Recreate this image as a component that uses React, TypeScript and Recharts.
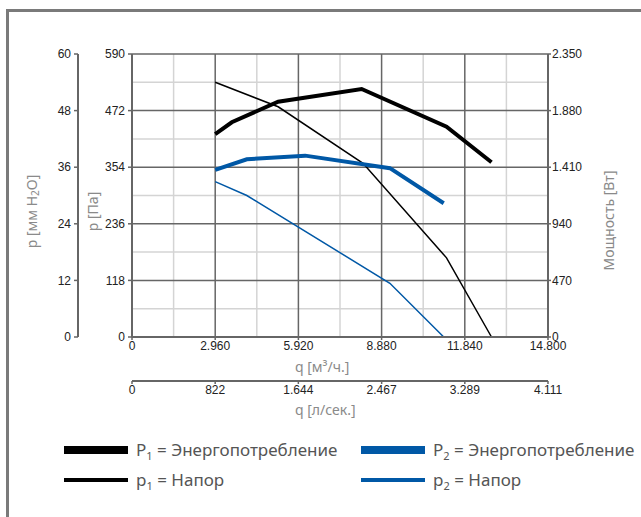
import React from "react";
import { LineChart, Line, XAxis, YAxis, ReferenceLine } from "recharts";

// axis ticks
const qTicks = [0, 2960, 5920, 8880, 11840, 14800];
const qMinor = [1480, 4440, 7400, 10360, 13320];
const lsTicks = [0, 822, 1644, 2467, 3289, 4111];
const paTicks = [0, 118, 236, 354, 472, 590];
const paMinor = [59, 177, 295, 413, 531];
const mmTicks = [0, 12, 24, 36, 48, 60];
const wTicks = [0, 470, 940, 1410, 1880, 2350];

// curves, q in m3/h
const p1Power = [
  { q: 2960, v: 1684 },
  { q: 3550, v: 1783 },
  { q: 5200, v: 1954 },
  { q: 8170, v: 2059 },
  { q: 11190, v: 1747 },
  { q: 12790, v: 1451 },
];
const p1Head = [
  { q: 2960, v: 531 },
  { q: 5200, v: 480 },
  { q: 8220, v: 362 },
  { q: 11190, v: 165 },
  { q: 12790, v: 0 },
];
const p2Power = [
  { q: 2960, v: 1388 },
  { q: 4085, v: 1476 },
  { q: 6160, v: 1506 },
  { q: 9175, v: 1402 },
  { q: 11090, v: 1111 },
];
const p2Head = [
  { q: 2960, v: 324 },
  { q: 4085, v: 295 },
  { q: 9175, v: 112 },
  { q: 11090, v: 0 },
];

// invisible anchors so the secondary scales get drawn
const mmAnchor = mmTicks.map((v) => ({ q: 0, v }));
const lsAnchor = lsTicks.map((q) => ({ q, v: 0 }));

const BLUE = "#0058a6";
const DARK = "#666";
const LIGHT = "#d4d4d4";
const LABEL_FONT = "'Noto Sans', sans-serif";
const TICK_FONT = "'Liberation Sans', Arial, sans-serif";

const fmt = (n: number) => String(n).replace(/\B(?=(\d{3})+(?!\d))/g, ".");

const tickStyle = { fontSize: 12, fill: "#222", fontFamily: TICK_FONT };
const axisLine = { stroke: DARK, strokeWidth: 2 };
const tickLine = { stroke: DARK, strokeWidth: 1.5 };

function VLabel({ viewBox, dx, dy, children }: any) {
  const cx = viewBox.x + dx;
  const cy = viewBox.y + viewBox.height / 2 + dy;
  return (
    <text
      x={cx}
      y={cy}
      transform={`rotate(-90 ${cx} ${cy})`}
      textAnchor="middle"
      dominantBaseline="central"
      fill="#8a8a8a"
      fontSize={14}
      fontFamily={LABEL_FONT}
    >
      {children}
    </text>
  );
}

function HLabel({ viewBox, startX, dy, text }: any) {
  return (
    <text
      x={startX}
      y={viewBox.y + dy}
      dominantBaseline="central"
      fill="#8a8a8a"
      fontSize={14}
      fontFamily={LABEL_FONT}
    >
      {text}
    </text>
  );
}

const legend = [
  { sym: "P", sub: "1", text: "Энергопотребление", color: "#000", h: 8, left: 64, top: 446 },
  { sym: "p", sub: "1", text: "Напор", color: "#000", h: 4, left: 64, top: 478 },
  { sym: "P", sub: "2", text: "Энергопотребление", color: BLUE, h: 8, left: 361, top: 446 },
  { sym: "p", sub: "2", text: "Напор", color: BLUE, h: 4, left: 361, top: 478 },
];

export default function App() {
  return (
    <div
      style={{
        position: "absolute",
        left: 0,
        top: 0,
        width: 641,
        height: 517,
        overflow: "hidden",
        background: "#fff",
      }}
    >
      <div
        style={{
          position: "absolute",
          left: 6,
          top: 9,
          width: 700,
          height: 600,
          border: "3px solid #7a7a7a",
        }}
      />
      <div style={{ position: "absolute", left: 0, top: 0 }}>
        <LineChart width={641} height={430} margin={{ top: 54, right: 33, bottom: 13, left: 10 }}>
          <XAxis
            xAxisId="b"
            dataKey="q"
            type="number"
            domain={[0, 4111]}
            ticks={lsTicks}
            interval={0}
            tickFormatter={fmt}
            tick={tickStyle}
            axisLine={axisLine}
            tickLine={tickLine}
            tickSize={3}
            tickMargin={1}
            height={36}
            label={<HLabel startX={295} dy={28} text="q [л/сек.]" />}
          />
          <XAxis
            xAxisId="a"
            dataKey="q"
            type="number"
            domain={[0, 14800]}
            ticks={qTicks}
            interval={0}
            tickFormatter={fmt}
            tick={tickStyle}
            axisLine={axisLine}
            tickLine={tickLine}
            tickSize={3}
            tickMargin={1}
            height={44}
            label={<HLabel startX={295} dy={29} text="q [м³/ч.]" />}
          />
          <YAxis
            yAxisId="b"
            type="number"
            domain={[0, 60]}
            ticks={mmTicks}
            interval={0}
            tick={tickStyle}
            axisLine={axisLine}
            tickLine={tickLine}
            tickSize={4}
            tickMargin={3}
            width={68}
            label={
              <VLabel dx={21} dy={16}>
                p [мм H
                <tspan dy={4} fontSize={10}>
                  2
                </tspan>
                <tspan dy={-4}>O]</tspan>
              </VLabel>
            }
          />
          <YAxis
            yAxisId="a"
            type="number"
            domain={[0, 590]}
            ticks={paTicks}
            interval={0}
            tick={tickStyle}
            axisLine={axisLine}
            tickLine={tickLine}
            tickSize={4}
            tickMargin={3}
            width={54}
            label={
              <VLabel dx={14} dy={16}>
                p [Па]
              </VLabel>
            }
          />
          <YAxis
            yAxisId="w"
            orientation="right"
            type="number"
            domain={[0, 2350]}
            ticks={wTicks}
            interval={0}
            tickFormatter={fmt}
            tick={tickStyle}
            axisLine={axisLine}
            tickLine={tickLine}
            tickSize={3}
            tickMargin={1}
            width={60}
            label={
              <VLabel dx={60} dy={25}>
                Мощность [Вт]
              </VLabel>
            }
          />

          {qMinor.map((v) => (
            <ReferenceLine key={"qm" + v} xAxisId="a" yAxisId="a" x={v} stroke={LIGHT} strokeWidth={1.5} />
          ))}
          {paMinor.map((v) => (
            <ReferenceLine key={"pm" + v} xAxisId="a" yAxisId="a" y={v} stroke={LIGHT} strokeWidth={1.5} />
          ))}
          {qTicks.slice(1, -1).map((v) => (
            <ReferenceLine key={"qM" + v} xAxisId="a" yAxisId="a" x={v} stroke={DARK} strokeWidth={1.5} />
          ))}
          {paTicks.slice(1).map((v) => (
            <ReferenceLine key={"pM" + v} xAxisId="a" yAxisId="a" y={v} stroke={DARK} strokeWidth={1.5} />
          ))}

          <Line
            data={mmAnchor}
            xAxisId="a"
            yAxisId="b"
            dataKey="v"
            stroke="none"
            dot={false}
            activeDot={false}
            isAnimationActive={false}
          />
          <Line
            data={lsAnchor}
            xAxisId="b"
            yAxisId="a"
            dataKey="v"
            stroke="none"
            dot={false}
            activeDot={false}
            isAnimationActive={false}
          />

          <Line
            data={p1Power}
            xAxisId="a"
            yAxisId="w"
            dataKey="v"
            type="linear"
            stroke="#000"
            strokeWidth={4}
            dot={false}
            isAnimationActive={false}
          />
          <Line
            data={p1Head}
            xAxisId="a"
            yAxisId="a"
            dataKey="v"
            type="linear"
            stroke="#000"
            strokeWidth={1.5}
            dot={false}
            isAnimationActive={false}
          />
          <Line
            data={p2Power}
            xAxisId="a"
            yAxisId="w"
            dataKey="v"
            type="linear"
            stroke={BLUE}
            strokeWidth={4}
            dot={false}
            isAnimationActive={false}
          />
          <Line
            data={p2Head}
            xAxisId="a"
            yAxisId="a"
            dataKey="v"
            type="linear"
            stroke={BLUE}
            strokeWidth={1.5}
            dot={false}
            isAnimationActive={false}
          />
        </LineChart>
      </div>

      {legend.map((l) => (
        <div key={l.sym + l.sub + l.text + l.left}>
          <div
            style={{
              position: "absolute",
              left: l.left,
              top: l.top,
              width: 64,
              height: l.h,
              background: l.color,
            }}
          />
          <div
            style={{
              position: "absolute",
              left: l.left + 72,
              top: l.top + l.h / 2 - 12,
              height: 24,
              lineHeight: "24px",
              fontFamily: LABEL_FONT,
              fontSize: 17,
              color: "#555",
              whiteSpace: "nowrap",
            }}
          >
            {l.sym}
            <sub style={{ fontSize: 11, verticalAlign: "-4px" }}>{l.sub}</sub> = {l.text}
          </div>
        </div>
      ))}
    </div>
  );
}
